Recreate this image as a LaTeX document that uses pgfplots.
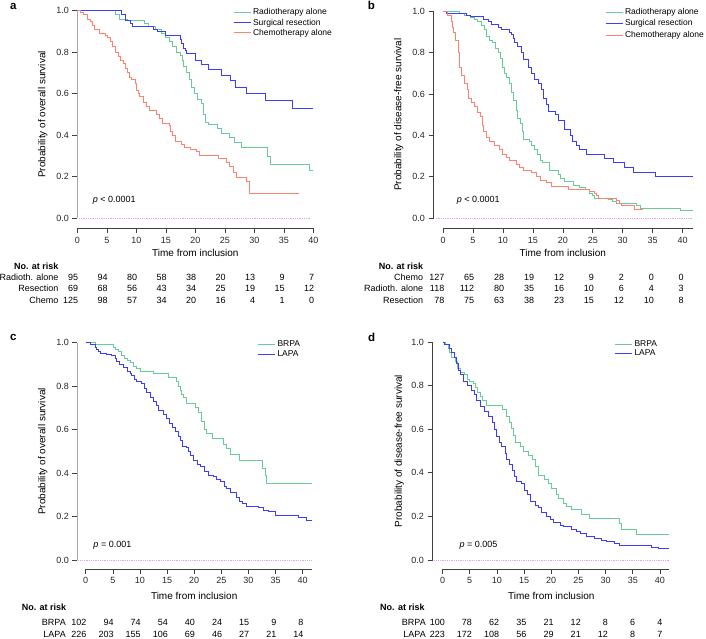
\documentclass[border=0pt]{standalone}
\usepackage{fontspec}
\setmainfont{Liberation Sans}
\usepackage{pgfplots}
\pgfplotsset{compat=1.18}
\definecolor{kmgreen}{RGB}{102,204,153}
\definecolor{kmblue}{RGB}{60,60,255}
\definecolor{kmred}{RGB}{255,130,110}
\definecolor{zeroline}{RGB}{225,165,240}
\newcommand\fs{\fontsize{9.0}{11}\selectfont}
\newcommand\riskrow[4]{\foreach \v [count=\i from 0] in {#4} {\node[anchor=base east, inner sep=0pt, font=\fs] at ({#1pt+\i*#2pt}, {639pt-#3pt-3.2pt}) {\v};}}
\newcommand\rlab[3]{\node[anchor=base east, inner sep=0pt, font=\fs] at (#1pt, {639pt-#2pt-3.2pt}) {#3};}
\newcommand\rlabw[3]{\node[anchor=base west, inner sep=0pt, font=\fs\bfseries] at (#1pt, {639pt-#2pt-3.2pt}) {#3};}
\pgfplotsset{
  km/.style={
    scale only axis,
    ymin=0, ymax=1, xmin=0,
    axis x line*=bottom, axis y line*=left,
    tick align=outside,
    major tick length=5pt,
    ytick={0,0.2,0.4,0.6,0.8,1},
    yticklabels={0.0,0.2,0.4,0.6,0.8,1.0},
    xtick={0,5,...,40},
    clip=false,
    axis line style={color=black!75, line width=0.6pt},
    tick style={color=black!75, line width=0.6pt},
    ticklabel style={font=\fs, color=black!85},
    label style={font=\fs, color=black!85},
    /pgf/number format/assume math mode=true,
    legend cell align=left,
    legend style={draw=none, fill=none, anchor=north west, inner sep=0pt,
      font=\fontsize{8.5}{10}\selectfont, row sep=-1.5pt},
    legend image code/.code={\draw[##1] (0pt,0pt) -- (17pt,0pt);},
    every axis plot/.append style={const plot, line width=0.8pt},
  }
}
\begin{document}
\begin{tikzpicture}
\path[use as bounding box] (0pt,0pt) rectangle (706pt,639pt);
% ---------------- panel a
\node[font=\fontsize{11.5}{12}\selectfont\bfseries, inner sep=0pt] at (13.3pt,{639pt-6.3pt}) {a};
\begin{axis}[km, at={(77.3pt,421pt)}, anchor=south west, width=236pt, height=207.3pt, xmax=40,
  axis x line shift=10.3pt, axis y line shift=0pt,
  y axis line style={color=black!35, line width=1.4pt},
  legend style={at={(0.66,1.02)}},
  every axis y label/.style={at={(rel axis cs:-0.1466,0.5)}, rotate=90, anchor=center},
  ylabel={Probability of overall survival},
  every axis x label/.style={at={(rel axis cs:0.5,-0.1703)}, anchor=center},
  xlabel={Time from inclusion}]
\addplot[kmgreen] coordinates {(0,1) (6.4,0.98) (7.2,0.96) (8.5,0.955) (11.4,0.94) (12.0,0.926) (13.2,0.91) (14.2,0.89) (15.0,0.87) (15.6,0.85) (16.1,0.826) (16.8,0.80) (17.4,0.786) (17.8,0.76) (18.0,0.73) (18.5,0.70) (19.0,0.67) (19.4,0.63) (19.8,0.60) (20.3,0.57) (21.0,0.555) (21.3,0.50) (21.7,0.46) (22.2,0.45) (23.8,0.43) (24.4,0.41) (25.7,0.39) (26.7,0.365) (27.8,0.342) (32.2,0.296) (32.8,0.259) (39.4,0.23) (40,0.23)};
\addlegendentry{Radiotherapy alone}
\addplot[kmblue] coordinates {(0,1) (7.5,0.98) (8.1,0.955) (9.0,0.94) (9.4,0.923) (12.9,0.91) (13.5,0.90) (15.0,0.883) (17.4,0.86) (17.6,0.842) (18.0,0.82) (18.3,0.81) (18.5,0.794) (20.1,0.762) (21.0,0.743) (22.3,0.719) (24.5,0.69) (25.9,0.662) (26.8,0.632) (28.6,0.601) (31.8,0.566) (36.4,0.529) (40,0.529)};
\addlegendentry{Surgical resection}
\addplot[kmred] coordinates {(0,1) (0.45,0.99) (1.0,0.98) (1.7,0.96) (2.2,0.95) (2.5,0.93) (2.9,0.91) (3.8,0.89) (4.7,0.88) (5.1,0.87) (5.6,0.85) (6.0,0.83) (6.4,0.80) (6.9,0.78) (7.3,0.76) (7.8,0.745) (8.2,0.72) (8.5,0.70) (8.8,0.68) (9.2,0.67) (9.8,0.65) (10.1,0.617) (10.3,0.60) (10.6,0.585) (11.2,0.56) (11.75,0.54) (12.3,0.521) (13.4,0.50) (13.9,0.48) (14.5,0.457) (15.6,0.445) (15.8,0.42) (16.2,0.40) (16.7,0.368) (17.7,0.355) (18.2,0.341) (19.2,0.33) (20.2,0.32) (20.7,0.304) (23.9,0.288) (25.3,0.267) (25.8,0.248) (26.4,0.219) (27.0,0.196) (28.7,0.175) (29.2,0.119) (37.6,0.119)};
\addlegendentry{Chemotherapy alone}
\addplot[zeroline, densely dotted, line width=0.6pt, forget plot] coordinates {(0.3,0) (39.6,0)};
\node[anchor=west, inner sep=0pt, font=\fs] at (axis cs:2.6,0.087) {\textit{p} < 0.0001};
\end{axis}
\rlab{58.6}{266.7}{\bfseries No. at risk}
\rlab{58.6}{277.3}{Radioth. alone}
\rlab{58.6}{288.3}{Resection}
\rlab{58.6}{300}{Chemo}
\riskrow{78.3}{29.5}{277.3}{95,94,80,58,38,20,13,9,7}
\riskrow{78.3}{29.5}{288.3}{69,68,56,43,34,25,19,15,12}
\riskrow{78.3}{29.5}{300}{125,98,57,34,20,16,4,1,0}
% ---------------- panel b
\node[font=\fontsize{11.5}{12}\selectfont\bfseries, inner sep=0pt] at (371.5pt,{639pt-5.5pt}) {b};
\begin{axis}[km, at={(443pt,421pt)}, anchor=south west, width=249.8pt, height=206.7pt, xmax=41.7,
  axis x line shift=10.3pt, axis y line shift=9.5pt,
  legend style={at={(0.6485,1.0257)}, row sep=0pt},
  every axis y label/.style={at={(rel axis cs:-0.1773,0.5)}, rotate=90, anchor=center},
  ylabel={Probability of disease-free survival},
  every axis x label/.style={at={(rel axis cs:0.4796,-0.1708)}, anchor=center},
  xlabel={Time from inclusion}]
\addplot[kmgreen] coordinates {(0,1) (2.8,0.99) (3.6,0.98) (4.5,0.97) (5.3,0.96) (5.8,0.95) (6.4,0.93) (6.9,0.91) (7.3,0.88) (7.8,0.86) (8.2,0.85) (8.8,0.82) (9.3,0.80) (9.6,0.77) (9.9,0.73) (10.2,0.70) (10.6,0.68) (11.0,0.65) (11.4,0.61) (11.7,0.57) (12.3,0.52) (12.5,0.48) (12.9,0.46) (13.3,0.42) (13.5,0.38) (14.5,0.37) (14.8,0.35) (15.3,0.33) (15.8,0.31) (16.2,0.28) (16.6,0.268) (17.8,0.232) (19.2,0.21) (19.6,0.19) (20.3,0.175) (21.7,0.16) (22.8,0.15) (23.7,0.14) (24.5,0.12) (25.0,0.11) (25.2,0.095) (27.6,0.09) (28.2,0.08) (29.0,0.07) (32.3,0.06) (32.9,0.045) (39.6,0.035) (41.7,0.035)};
\addlegendentry{Radiotherapy alone}
\addplot[kmblue] coordinates {(0,1) (0.55,0.99) (3.9,0.98) (4.6,0.975) (6.7,0.96) (7.5,0.95) (8.1,0.935) (9.2,0.92) (9.7,0.91) (11.0,0.90) (11.4,0.89) (11.7,0.87) (12.0,0.85) (12.5,0.83) (13.1,0.80) (13.5,0.765) (14.2,0.73) (14.8,0.70) (15.2,0.67) (15.9,0.65) (16.4,0.62) (16.8,0.58) (17.3,0.55) (17.6,0.515) (18.7,0.50) (19.2,0.474) (20.3,0.43) (21.2,0.40) (21.6,0.37) (22.2,0.35) (22.8,0.33) (24.0,0.31) (27.0,0.29) (28.4,0.27) (30.3,0.244) (31.8,0.222) (35.4,0.20) (41.7,0.20)};
\addlegendentry{Surgical resection}
\addplot[kmred] coordinates {(0,1) (0.7,0.98) (1.4,0.95) (1.6,0.92) (1.7,0.90) (2.1,0.86) (2.5,0.80) (2.8,0.73) (3.1,0.69) (3.5,0.65) (4.0,0.62) (4.3,0.58) (4.7,0.56) (5.3,0.54) (5.8,0.51) (6.2,0.49) (6.6,0.45) (6.8,0.42) (7.2,0.39) (7.8,0.37) (8.6,0.35) (9.4,0.33) (9.9,0.31) (10.6,0.295) (11.1,0.28) (12.3,0.26) (12.8,0.245) (13.4,0.23) (14.8,0.22) (15.6,0.20) (16.3,0.18) (17.3,0.17) (18.1,0.155) (20.9,0.14) (24.5,0.13) (25.3,0.12) (25.6,0.11) (26.0,0.095) (29.0,0.085) (29.5,0.07) (29.8,0.06) (32.0,0.04) (33.4,0.04)};
\addlegendentry{Chemotherapy alone}
\addplot[zeroline, densely dotted, line width=0.6pt, forget plot] coordinates {(-1.2,0) (41.6,0)};
\node[anchor=west, inner sep=0pt, font=\fs] at (axis cs:2.29,0.087) {\textit{p} < 0.0001};
\end{axis}
\rlab{423.3}{266.7}{\bfseries No. at risk}
\rlab{423.3}{277.3}{Chemo}
\rlab{423.3}{288.3}{Radioth. alone}
\rlab{423.3}{300}{Resection}
\riskrow{444.5}{29.93}{277.3}{127,65,28,19,12,9,2,0,0}
\riskrow{444.5}{29.93}{288.3}{118,112,80,35,16,10,6,4,3}
\riskrow{444.5}{29.93}{300}{78,75,63,38,23,15,12,10,8}
% ---------------- panel c
\node[font=\fontsize{11.5}{12}\selectfont\bfseries, inner sep=0pt] at (13.3pt,{639pt-337.7pt}) {c};
\begin{axis}[km, at={(85.7pt,79pt)}, anchor=south west, width=226.2pt, height=217.3pt, xmax=41.7,
  axis x line shift=9pt, axis y line shift=8.4pt,
  y axis line style={color=black!35, line width=1.4pt},
  legend style={at={(0.7595,1.019)}},
  every axis y label/.style={at={(rel axis cs:-0.1901,0.5)}, rotate=90, anchor=center},
  ylabel={Probability of overall survival},
  every axis x label/.style={at={(rel axis cs:0.4796,-0.1643)}, anchor=center},
  xlabel={Time from inclusion}]
\addplot[kmgreen] coordinates {(0,1) (1.7,0.99) (5.1,0.98) (5.4,0.97) (6.0,0.96) (6.5,0.94) (7.1,0.93) (7.6,0.92) (8.3,0.91) (8.8,0.89) (9.4,0.88) (10.1,0.87) (12.4,0.859) (15.2,0.84) (16.8,0.82) (17.1,0.80) (17.4,0.78) (17.7,0.76) (18.0,0.748) (18.6,0.72) (20.2,0.70) (20.8,0.68) (21.4,0.64) (21.8,0.60) (22.3,0.583) (23.4,0.56) (25.4,0.53) (26.0,0.514) (26.7,0.488) (28.4,0.457) (32.6,0.42) (33.1,0.39) (33.4,0.353) (41.7,0.353)};
\addlegendentry{BRPA}
\addplot[kmblue] coordinates {(0,1) (0.8,0.99) (1.7,0.98) (2.0,0.97) (2.4,0.96) (2.8,0.95) (3.8,0.945) (4.7,0.94) (5.4,0.93) (5.7,0.915) (6.3,0.90) (6.9,0.885) (7.7,0.87) (8.2,0.86) (8.5,0.85) (8.9,0.83) (9.4,0.82) (10.3,0.813) (10.8,0.79) (11.2,0.77) (11.9,0.75) (12.5,0.73) (13.0,0.71) (13.4,0.69) (14.3,0.67) (14.9,0.65) (15.5,0.63) (16.0,0.61) (16.6,0.59) (17.1,0.57) (17.4,0.55) (17.9,0.525) (18.6,0.52) (18.9,0.50) (19.3,0.48) (19.8,0.46) (20.5,0.442) (21.2,0.43) (21.8,0.41) (22.6,0.39) (23.5,0.385) (24.1,0.37) (24.8,0.36) (25.5,0.34) (26.0,0.33) (26.7,0.31) (27.7,0.29) (28.3,0.27) (28.9,0.26) (29.6,0.245) (31.8,0.24) (32.8,0.23) (33.7,0.225) (34.9,0.207) (37.7,0.205) (39.2,0.195) (40.6,0.18) (41.7,0.18)};
\addlegendentry{LAPA}
\addplot[zeroline, densely dotted, line width=0.6pt, forget plot] coordinates {(-1.36,0) (41.6,0)};
\node[anchor=west, inner sep=0pt, font=\fs] at (axis cs:1.4,0.069) {\textit{p} = 0.001};
\end{axis}
\rlabw{21.7}{607.7}{No. at risk}
\rlab{66}{622.5}{BRPA}
\rlab{66}{634.8}{LAPA}
\riskrow{86.7}{27.125}{622.5}{102,94,74,54,40,24,15,9,8}
\riskrow{86.7}{27.125}{634.8}{226,203,155,106,69,46,27,21,14}
% ---------------- panel d
\node[font=\fontsize{11.5}{12}\selectfont\bfseries, inner sep=0pt] at (371.7pt,{639pt-337pt}) {d};
\begin{axis}[km, at={(442.5pt,79pt)}, anchor=south west, width=226.7pt, height=218pt, xmax=41.7,
  axis x line shift=9pt, axis y line shift=10pt,
  legend style={at={(0.7587,1.018)}},
  every axis y label/.style={at={(rel axis cs:-0.1906,0.5)}, rotate=90, anchor=center},
  ylabel={Probability of disease-free survival},
  every axis x label/.style={at={(rel axis cs:0.4796,-0.1638)}, anchor=center},
  xlabel={Time from inclusion}]
\addplot[kmgreen] coordinates {(0,1) (0.5,0.99) (1.0,0.97) (1.35,0.95) (1.7,0.93) (2.3,0.91) (2.7,0.88) (3.3,0.86) (4.1,0.85) (4.5,0.83) (5.0,0.82) (5.6,0.81) (6.1,0.79) (6.4,0.77) (6.9,0.75) (7.4,0.73) (8.1,0.711) (11.0,0.69) (11.8,0.66) (12.3,0.63) (12.7,0.604) (13.0,0.57) (13.4,0.538) (14.4,0.52) (14.8,0.50) (15.8,0.482) (16.6,0.46) (17.0,0.43) (17.6,0.388) (18.8,0.37) (19.4,0.35) (20.1,0.33) (20.9,0.30) (21.3,0.283) (22.2,0.26) (22.8,0.245) (23.7,0.23) (25.6,0.21) (27.1,0.191) (32.5,0.17) (32.9,0.141) (35.6,0.118) (41.7,0.118)};
\addlegendentry{BRPA}
\addplot[kmblue] coordinates {(0,1) (0.4,0.99) (1.2,0.97) (1.6,0.95) (2.1,0.93) (2.5,0.90) (2.9,0.87) (3.3,0.85) (3.9,0.82) (4.5,0.80) (5.3,0.78) (5.8,0.76) (6.3,0.73) (6.9,0.703) (7.7,0.68) (8.4,0.66) (9.2,0.63) (9.5,0.60) (9.9,0.566) (10.4,0.54) (10.9,0.52) (11.5,0.49) (11.8,0.46) (12.3,0.44) (12.9,0.41) (13.3,0.382) (13.6,0.36) (14.5,0.35) (15.0,0.32) (15.6,0.30) (16.1,0.27) (17.0,0.25) (17.6,0.24) (18.2,0.22) (19.1,0.20) (19.8,0.185) (20.4,0.173) (21.6,0.16) (22.2,0.155) (23.7,0.14) (24.7,0.13) (25.3,0.12) (26.5,0.11) (28.0,0.10) (29.3,0.09) (30.2,0.085) (31.7,0.075) (32.5,0.065) (38.5,0.06) (39.7,0.055) (41.7,0.055)};
\addlegendentry{LAPA}
\addplot[zeroline, densely dotted, line width=0.6pt, forget plot] coordinates {(-1.5,0) (41.6,0)};
\node[anchor=west, inner sep=0pt, font=\fs] at (axis cs:3.09,0.069) {\textit{p} = 0.005};
\end{axis}
\rlabw{380}{607.7}{No. at risk}
\rlab{426}{622.5}{BRPA}
\rlab{426}{634.8}{LAPA}
\riskrow{445}{27.19}{622.5}{100,78,62,35,21,12,8,6,4}
\riskrow{445}{27.19}{634.8}{223,172,108,56,29,21,12,8,7}
\end{tikzpicture}
\end{document}
